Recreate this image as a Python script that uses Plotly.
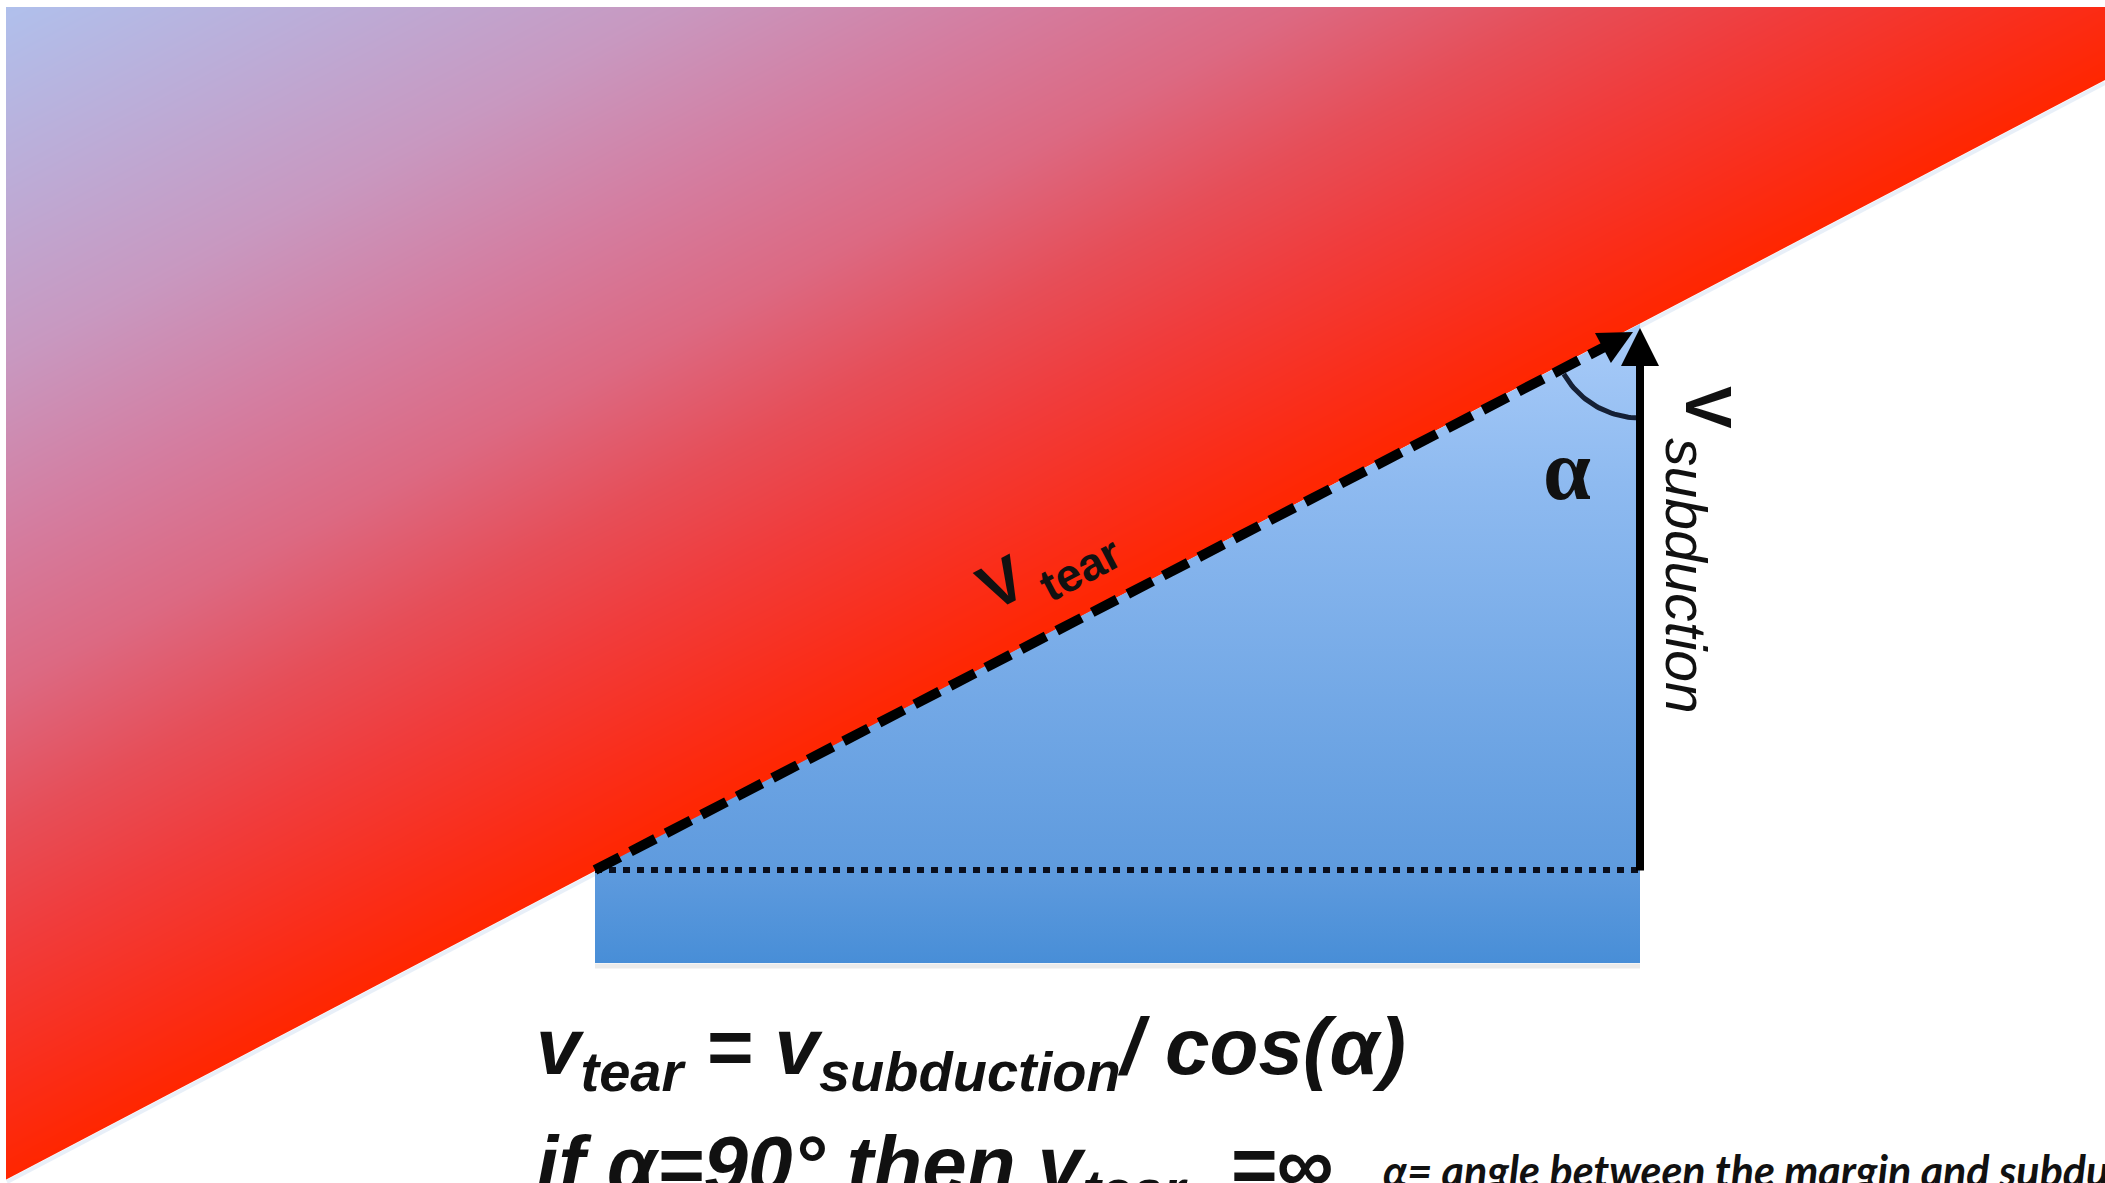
import numpy as np
import plotly.graph_objects as go

W, H = 2105, 1183      # browser window

# ---- geometry (window pixel coordinates) ----
margin_line_x = [7, 2105]          # edge of the red overriding plate
margin_line_y = [1179, 80]
plate_x = [595, 1640, 1640, 595]   # blue subducting plate polygon
plate_y = [870, 324, 963, 963]
tear_x = [595, 1618]               # dashed v_tear vector
tear_y = [870, 340]
tear_tip = [1633, 332]
subd_x = [1640, 1640]              # v_subduction vector (tail, tip)
subd_y = [872, 328]
dotted_x = [595, 1640]             # dotted reference line
dotted_y = [870, 870]
arc_center = [1640, 330]
arc_radius = 88
arc_angles_deg = [150, 90]

# colour stops
red_stops = [
    [0.00, "rgb(255,38,0)"],
    [0.08, "rgb(250,45,25)"],
    [0.20, "rgb(240,60,60)"],
    [0.30, "rgb(230,78,88)"],
    [0.42, "rgb(220,105,130)"],
    [0.55, "rgb(212,125,160)"],
    [0.70, "rgb(200,152,192)"],
    [0.85, "rgb(188,172,215)"],
    [1.00, "rgb(176,192,236)"],
]
blue_stops = [
    [0.00, "rgb(168,203,248)"],
    [0.25, "rgb(142,186,240)"],
    [0.65, "rgb(110,165,228)"],
    [0.85, "rgb(95,155,222)"],
    [1.00, "rgb(72,142,215)"],
]

fig = go.Figure()

# red gradient (distance from the margin line, normalised)
gx = np.linspace(-40, W + 40, 150)
gy = np.linspace(-40, H + 40, 86)
X, Y = np.meshgrid(gx, gy)
slope = (margin_line_y[1] - margin_line_y[0]) / (margin_line_x[1] - margin_line_x[0])
line_y = margin_line_y[0] + slope * (X - margin_line_x[0])
dmax = margin_line_y[0] + slope * (7 - margin_line_x[0]) - 7
T = np.clip((line_y - Y) / dmax, 0, 1)
fig.add_trace(go.Heatmap(x=gx, y=gy, z=T, colorscale=red_stops, zmin=0, zmax=1,
                         zsmooth="best", showscale=False, hoverinfo="skip"))

# white area below the margin
ext = 60
fig.add_trace(go.Scatter(
    x=[margin_line_x[0] - ext, margin_line_x[1] + ext, W + ext, -ext],
    y=[margin_line_y[0] - slope * ext, margin_line_y[1] + slope * ext, H + ext, H + ext],
    fill="toself", fillcolor="white", mode="lines", line=dict(width=0),
    hoverinfo="skip"))
# soft halo along the margin edge
fig.add_trace(go.Scatter(x=margin_line_x, y=[v + 3 for v in margin_line_y], mode="lines",
                         line=dict(color="rgba(150,180,225,0.22)", width=4), hoverinfo="skip"))

# blue plate
fig.add_trace(go.Scatter(
    x=plate_x + [plate_x[0]], y=plate_y + [plate_y[0]], fill="toself", mode="lines",
    line=dict(width=0),
    fillgradient=dict(type="vertical", colorscale=blue_stops, start=324, stop=963),
    hoverinfo="skip"))
# plate shadow
fig.add_trace(go.Scatter(x=[plate_x[0], plate_x[1]], y=[966, 966], mode="lines",
                         line=dict(color="rgba(0,0,0,0.08)", width=5), hoverinfo="skip"))

# dotted line
fig.add_trace(go.Scatter(x=dotted_x, y=dotted_y, mode="lines",
                         line=dict(color="#0a0f1e", width=6, dash="7px,7px"), hoverinfo="skip"))
# dashed tear vector
fig.add_trace(go.Scatter(x=tear_x, y=tear_y, mode="lines",
                         line=dict(color="black", width=10, dash="28px,12px"), hoverinfo="skip"))
# angle arc
ang = np.radians(np.linspace(arc_angles_deg[0], arc_angles_deg[1], 40))
fig.add_trace(go.Scatter(x=arc_center[0] + arc_radius * np.cos(ang),
                         y=arc_center[1] + arc_radius * np.sin(ang), mode="lines",
                         line=dict(color="#152035", width=5), hoverinfo="skip"))

annotations = [
    # vertical subduction arrow
    dict(x=subd_x[1], y=subd_y[1], ax=subd_x[0], ay=subd_y[0], axref="x", ayref="y",
         xref="x", yref="y", text="", showarrow=True, arrowhead=2, arrowsize=0.95,
         arrowwidth=8, arrowcolor="black"),
    # head of dashed arrow
    dict(x=tear_tip[0], y=tear_tip[1], ax=tear_x[1] - 12, ay=tear_y[1] - slope * 12, axref="x", ayref="y",
         xref="x", yref="y", text="", showarrow=True, arrowhead=2, arrowsize=0.85,
         arrowwidth=8, arrowcolor="black"),
    dict(x=1567, y=470, xref="x", yref="y", text="<b>α</b>", showarrow=False,
         xanchor="center", yanchor="middle",
         font=dict(family="Liberation Serif", size=86, color="#111")),
    dict(x=1001, y=583, xref="x", yref="y", text="<b>V</b>", showarrow=False,
         textangle=-27.7, xanchor="center", yanchor="middle",
         font=dict(family="Liberation Sans", size=64, color="#111")),
    dict(x=1080, y=569, xref="x", yref="y", text="<b>tear</b>", showarrow=False,
         textangle=-27.7, xanchor="center", yanchor="middle",
         font=dict(family="Liberation Sans", size=46, color="#111")),
    dict(x=1708, y=407, xref="x", yref="y", text="<b>V</b>", showarrow=False,
         textangle=90, xanchor="center", yanchor="middle",
         font=dict(family="Liberation Sans", size=64, color="#111")),
    dict(x=1686, y=576, xref="x", yref="y", text="<i>subduction</i>", showarrow=False,
         textangle=90, xanchor="center", yanchor="middle",
         font=dict(family="Liberation Sans", size=57, color="#111")),
    dict(x=534, y=1000, xref="x", yref="y",
         text="<b><i>v<sub>tear</sub> = v<sub>subduction</sub>/ cos(α)</i></b>",
         showarrow=False, xanchor="left", yanchor="top",
         font=dict(family="Liberation Sans", size=80, color="#111")),
    dict(x=534, y=1118, xref="x", yref="y",
         text="<b><i>if α=90° then v<sub>tear</sub>  =∞</i></b>",
         showarrow=False, xanchor="left", yanchor="top",
         font=dict(family="Liberation Sans", size=80, color="#111")),
    dict(x=1381, y=1143, xref="x", yref="y",
         text="<b><i>α= angle between the margin and subduction</i></b>",
         showarrow=False, xanchor="left", yanchor="top",
         font=dict(family="Lato", size=43, color="#111")),
]

fig.update_layout(
    width=W, height=H, margin=dict(l=0, r=0, t=0, b=0),
    paper_bgcolor="white", plot_bgcolor="white", showlegend=False,
    xaxis=dict(range=[0, W], visible=False, fixedrange=True),
    yaxis=dict(range=[H, 0], visible=False, fixedrange=True),
    annotations=annotations,
    shapes=[
        dict(type="rect", xref="x", yref="y", x0=-5, x1=W + 5, y0=-5, y1=7, fillcolor="white",
             line=dict(width=0), layer="above"),
        dict(type="rect", xref="x", yref="y", x0=-5, x1=6, y0=-5, y1=H + 5, fillcolor="white",
             line=dict(width=0), layer="above"),
    ],
)

fig.write_html(
    "out.html",
    config=dict(displayModeBar=False),
    post_script="document.body.style.margin='0';"
                "document.documentElement.style.overflow='hidden';"
                "document.body.style.overflow='hidden';",
)
